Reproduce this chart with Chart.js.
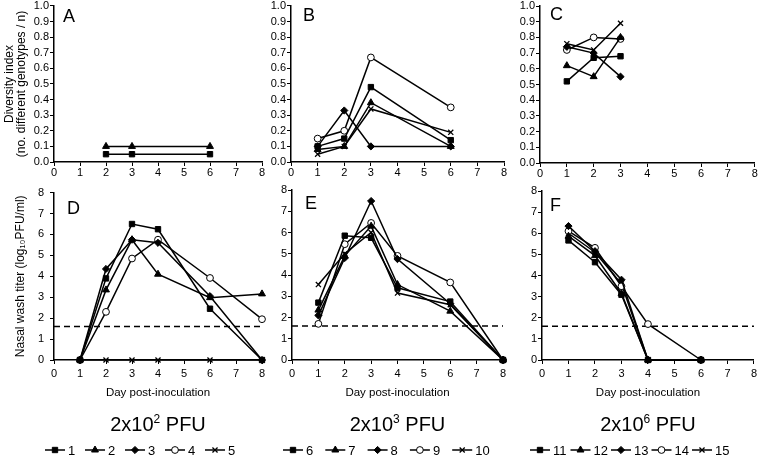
<!DOCTYPE html>
<html>
<head>
<meta charset="utf-8">
<script src="https://cdn.jsdelivr.net/npm/chart.js@4.4.0/dist/chart.umd.min.js"></script>
<style>
html,body{margin:0;padding:0;background:#fff;width:760px;height:457px;overflow:hidden}
.p{position:absolute}
</style>
</head>
<body>
<div class="p" style="left:0px;top:0px;width:270px;height:185px"><canvas id="cA"></canvas></div>
<div class="p" style="left:262px;top:0px;width:250px;height:185px"><canvas id="cB"></canvas></div>
<div class="p" style="left:512px;top:0px;width:248px;height:185px"><canvas id="cC"></canvas></div>
<div class="p" style="left:0px;top:180px;width:270px;height:277px"><canvas id="cD"></canvas></div>
<div class="p" style="left:262px;top:180px;width:250px;height:277px"><canvas id="cE"></canvas></div>
<div class="p" style="left:512px;top:180px;width:248px;height:277px"><canvas id="cF"></canvas></div>
<script>
// ---------------- DATA ----------------
const xTickMin = 0, xTickMax = 8;
const diversityTickMax = 1.0, diversityTickStep = 0.1;
const titerTickMax = 8, titerTickStep = 1;
const detectionLimit = 1.6;

const panelLetters = ['A','B','C','D','E','F'];
const diversityTitle = ['Diversity index', '(no. different genotypes / n)'];
const titerTitle = 'Nasal wash titer (log\u2081\u2080PFU/ml)';
const dayTitle = 'Day post-inoculation';
const doseBase = '2x10';
const doseExponents = ['2', '3', '6'];
const doseUnit = ' PFU';

const groupLabels1 = ['1','2','3','4','5'];
const groupLabels2 = ['6','7','8','9','10'];
const groupLabels3 = ['11','12','13','14','15'];

// Panel A: diversity, 2x10^2 PFU
const divDaysA = [2, 3, 6];
const divA_1 = [0.05, 0.05, 0.05];
const divA_2 = [0.10, 0.10, 0.10];

// Panel B: diversity, 2x10^3 PFU
const divDaysB = [1, 2, 3, 6];
const divB_6  = [0.10, 0.15, 0.48, 0.14];
const divB_7  = [0.08, 0.10, 0.38, 0.10];
const divB_8  = [0.10, 0.33, 0.10, 0.10];
const divB_9  = [0.15, 0.20, 0.67, 0.35];
const divB_10 = [0.05, 0.10, 0.34, 0.19];

// Panel C: diversity, 2x10^6 PFU
const divDaysC = [1, 2, 3];
const divC_11 = [0.52, 0.67, 0.68];
const divC_12 = [0.62, 0.55, 0.80];
const divC_13 = [0.74, 0.70, 0.55];
const divC_14 = [0.72, 0.80, 0.79];
const divC_15 = [0.76, 0.72, 0.89];

// Panel D: titer, 2x10^2 PFU
const titerDaysD = [1, 2, 3, 4, 6, 8];
const titerD_1 = [0, 3.90, 6.50, 6.25, 2.45, 0];
const titerD_2 = [0, 3.35, 5.75, 4.10, 2.98, 3.16];
const titerD_3 = [0, 4.35, 5.75, 5.60, 3.05, 0];
const titerD_4 = [0, 2.30, 4.85, 5.75, 3.92, 1.95];
const titerD_5 = [0, 0, 0, 0, 0, 0];

// Panel E: titer, 2x10^3 PFU
const titerDaysE = [1, 2, 3, 4, 6, 8];
const titerE_6  = [2.70, 5.85, 5.75, 3.40, 2.75, 0];
const titerE_7  = [2.35, 4.90, 6.30, 3.55, 2.30, 0];
const titerE_8  = [2.10, 4.80, 7.48, 4.75, 2.65, 0];
const titerE_9  = [1.70, 5.45, 6.45, 4.90, 3.65, 0];
const titerE_10 = [3.55, 5.00, 6.00, 3.15, 2.60, 0];

// Panel F: titer, 2x10^6 PFU
const titerDaysF = [1, 2, 3, 4, 6];
const titerF_11 = [5.66, 4.63, 3.09, 0, 0];
const titerF_12 = [5.86, 4.94, 3.15, 0, 0];
const titerF_13 = [6.34, 5.15, 3.80, 0, 0];
const titerF_14 = [6.10, 5.31, 3.49, 1.70, 0];
const titerF_15 = [6.00, 5.10, 3.60, 0, 0];

// ---------------- STYLE ----------------
const FONT = '"Liberation Sans", Arial, sans-serif';
const NARROW = '"Liberation Sans Narrow", "Liberation Sans", Arial, sans-serif';
const STYLES = ['rect','triangle','rectRot','circle','crossRot'];
const RADII = {rect:3.8, triangle:4, rectRot:3.6, circle:3.4, crossRot:3.6};

function series(label, styleIdx, days, values) {
  const ps = STYLES[styleIdx];
  return {
    label: label, inLegend: true,
    data: days.map((d, i) => ({x: d, y: values[i]})),
    borderColor: '#000', borderWidth: 1.5,
    backgroundColor: ps === 'circle' ? '#fff' : '#000',
    pointStyle: ps, pointRadius: RADII[ps],
    pointBackgroundColor: ps === 'circle' ? '#fff' : '#000',
    pointBorderColor: '#000', pointBorderWidth: ps === 'crossRot' ? 1.3 : 1,
    tension: 0, fill: false, clip: false
  };
}
function lodLine(v) {
  return {
    label: 'LOD', inLegend: false,
    data: [{x: xTickMin, y: v}, {x: xTickMax, y: v}],
    borderColor: '#000', borderWidth: 1.6, borderDash: [6, 4],
    pointRadius: 0, fill: false, clip: false
  };
}

const DECOR = {
  cA: {letter: panelLetters[0], dx: 9, dy: 11},
  cB: {letter: panelLetters[1], dx: 12, dy: 10},
  cC: {letter: panelLetters[2], dx: 10, dy: 9},
  cD: {letter: panelLetters[3], dx: 13, dy: 16, dose: doseExponents[0], step: 40, legendX: -9},
  cE: {letter: panelLetters[4], dx: 13, dy: 14, dose: doseExponents[1], step: 42.3, legendX: -9},
  cF: {letter: panelLetters[5], dx: 8, dy: 15, dose: doseExponents[2], step: 40.5, legendX: -12}
};

const decorPlugin = {
  id: 'decor',
  afterDraw(chart) {
    const d = DECOR[chart.canvas.id];
    if (!d) return;
    const ctx = chart.ctx, a = chart.chartArea;
    ctx.save();
    ctx.fillStyle = '#000';
    ctx.strokeStyle = '#000';
    ctx.font = '18px ' + FONT;
    ctx.textBaseline = 'middle';
    ctx.textAlign = 'left';
    ctx.fillText(d.letter, a.left + d.dx, a.top + d.dy);
    if (d.dose) {
      // caption 2x10^n PFU
      ctx.textBaseline = 'alphabetic';
      ctx.font = '20px ' + FONT;
      const w1 = ctx.measureText(doseBase).width;
      const w3 = ctx.measureText(doseUnit).width;
      ctx.font = '12px ' + FONT;
      const w2 = ctx.measureText(d.dose).width;
      let x = (a.left + a.right) / 2 - (w1 + w2 + w3) / 2;
      const base = 251;
      ctx.font = '20px ' + FONT;
      ctx.fillText(doseBase, x, base); x += w1;
      ctx.font = '12px ' + FONT;
      ctx.fillText(d.dose, x, base - 8); x += w2;
      ctx.font = '20px ' + FONT;
      ctx.fillText(doseUnit, x, base);
      // legend
      const ly = 270;
      let lx = a.left + d.legendX;
      ctx.font = '13px ' + NARROW;
      ctx.textBaseline = 'middle';
      chart.data.datasets.filter(ds => ds.inLegend).forEach(ds => {
        ctx.lineWidth = 1.5;
        ctx.setLineDash([]);
        ctx.beginPath();
        ctx.moveTo(lx, ly); ctx.lineTo(lx + 20, ly);
        ctx.stroke();
        ctx.fillStyle = ds.pointBackgroundColor;
        ctx.lineWidth = ds.pointBorderWidth;
        Chart.helpers.drawPoint(ctx, {pointStyle: ds.pointStyle, radius: ds.pointRadius, rotation: 0, borderWidth: ds.pointBorderWidth}, lx + 10, ly);
        ctx.fillStyle = '#000';
        ctx.fillText(ds.label, lx + 23, ly + 1);
        lx += d.step;
      });
    }
    ctx.restore();
  }
};

function xScale(h, pad, withTitle) {
  return {
    type: 'linear', min: xTickMin, max: xTickMax,
    ticks: {stepSize: 1, font: {family: FONT, size: 11}, color: '#000', padding: pad, maxRotation: 0, autoSkip: false},
    grid: {drawOnChartArea: false, drawTicks: true, tickLength: 4, color: '#000', lineWidth: 1},
    border: {color: '#000', width: 1.5},
    title: withTitle ? {display: true, text: dayTitle, color: '#000', font: {family: FONT, size: 11.5, lineHeight: 1.2}, padding: {top: 0, bottom: 56.8}} : {display: false},
    afterFit: s => { s.height = h; }
  };
}
function yScale(kind, w, pad, title) {
  const isDiv = kind === 'div';
  const sc = {
    type: 'linear', min: 0, max: isDiv ? diversityTickMax : titerTickMax,
    ticks: {
      stepSize: isDiv ? diversityTickStep : titerTickStep,
      font: {family: FONT, size: 11, lineHeight: isDiv ? 0.9 : 1.2}, color: '#000', padding: pad,
      callback: v => isDiv ? Number(v).toFixed(1) : String(v)
    },
    grid: {drawOnChartArea: false, drawTicks: true, tickLength: 4, color: '#000', lineWidth: 1},
    border: {color: '#000', width: 1.5},
    title: {display: false},
    afterFit: s => { s.width = w; }
  };
  if (title === 'div') {
    sc.title = {display: true, text: diversityTitle, color: '#000', font: {family: FONT, size: 12, lineHeight: 1}, padding: {top: 4, bottom: 0}};
  } else if (title === 'titer') {
    sc.title = {display: true, text: titerTitle, color: '#000', font: {family: FONT, size: 12, lineHeight: 1.2}, padding: {top: 13.8, bottom: 0}};
  }
  return sc;
}

function makePanel(id, datasets, pad, xs, ys) {
  new Chart(document.getElementById(id), {
    type: 'line',
    data: {datasets: datasets},
    options: {
      responsive: true, maintainAspectRatio: false, animation: false,
      layout: {padding: pad},
      plugins: {legend: {display: false}, tooltip: {enabled: false}},
      scales: {x: xs, y: ys}
    },
    plugins: [decorPlugin]
  });
}

makePanel('cA', [
  series(groupLabels1[0], 0, divDaysA, divA_1),
  series(groupLabels1[1], 1, divDaysA, divA_2)
], {top: 5, right: 8, left: 0, bottom: 0}, xScale(23, 0, false), yScale('div', 54, 1, 'div'));

makePanel('cB', [
  series(groupLabels2[0], 0, divDaysB, divB_6),
  series(groupLabels2[1], 1, divDaysB, divB_7),
  series(groupLabels2[2], 2, divDaysB, divB_8),
  series(groupLabels2[3], 3, divDaysB, divB_9),
  series(groupLabels2[4], 4, divDaysB, divB_10)
], {top: 5, right: 8, left: 0, bottom: 0}, xScale(23, 0, false), yScale('div', 29, 1, null));

makePanel('cC', [
  series(groupLabels3[0], 0, divDaysC, divC_11),
  series(groupLabels3[1], 1, divDaysC, divC_12),
  series(groupLabels3[2], 2, divDaysC, divC_13),
  series(groupLabels3[3], 3, divDaysC, divC_14),
  series(groupLabels3[4], 4, divDaysC, divC_15)
], {top: 6, right: 3, left: 0, bottom: 0}, xScale(22, 0, false), yScale('div', 28, 1, null));

makePanel('cD', [
  series(groupLabels1[0], 0, titerDaysD, titerD_1),
  series(groupLabels1[1], 1, titerDaysD, titerD_2),
  series(groupLabels1[2], 2, titerDaysD, titerD_3),
  series(groupLabels1[3], 3, titerDaysD, titerD_4),
  series(groupLabels1[4], 4, titerDaysD, titerD_5),
  lodLine(detectionLimit)
], {top: 9, right: 8, left: 0, bottom: 0}, xScale(97, 3, true), yScale('titer', 54, 6, 'titer'));

makePanel('cE', [
  series(groupLabels2[0], 0, titerDaysE, titerE_6),
  series(groupLabels2[1], 1, titerDaysE, titerE_7),
  series(groupLabels2[2], 2, titerDaysE, titerE_8),
  series(groupLabels2[3], 3, titerDaysE, titerE_9),
  series(groupLabels2[4], 4, titerDaysE, titerE_10),
  lodLine(detectionLimit)
], {top: 10, right: 9, left: 0, bottom: 0}, xScale(97, 3, true), yScale('titer', 30, 1, null));

makePanel('cF', [
  series(groupLabels3[0], 0, titerDaysF, titerF_11),
  series(groupLabels3[1], 1, titerDaysF, titerF_12),
  series(groupLabels3[2], 2, titerDaysF, titerF_13),
  series(groupLabels3[3], 3, titerDaysF, titerF_14),
  series(groupLabels3[4], 4, titerDaysF, titerF_15),
  lodLine(detectionLimit)
], {top: 11, right: 3, left: 0, bottom: 0}, xScale(97, 3, true), yScale('titer', 30, 1, null));
</script>
</body>
</html>
